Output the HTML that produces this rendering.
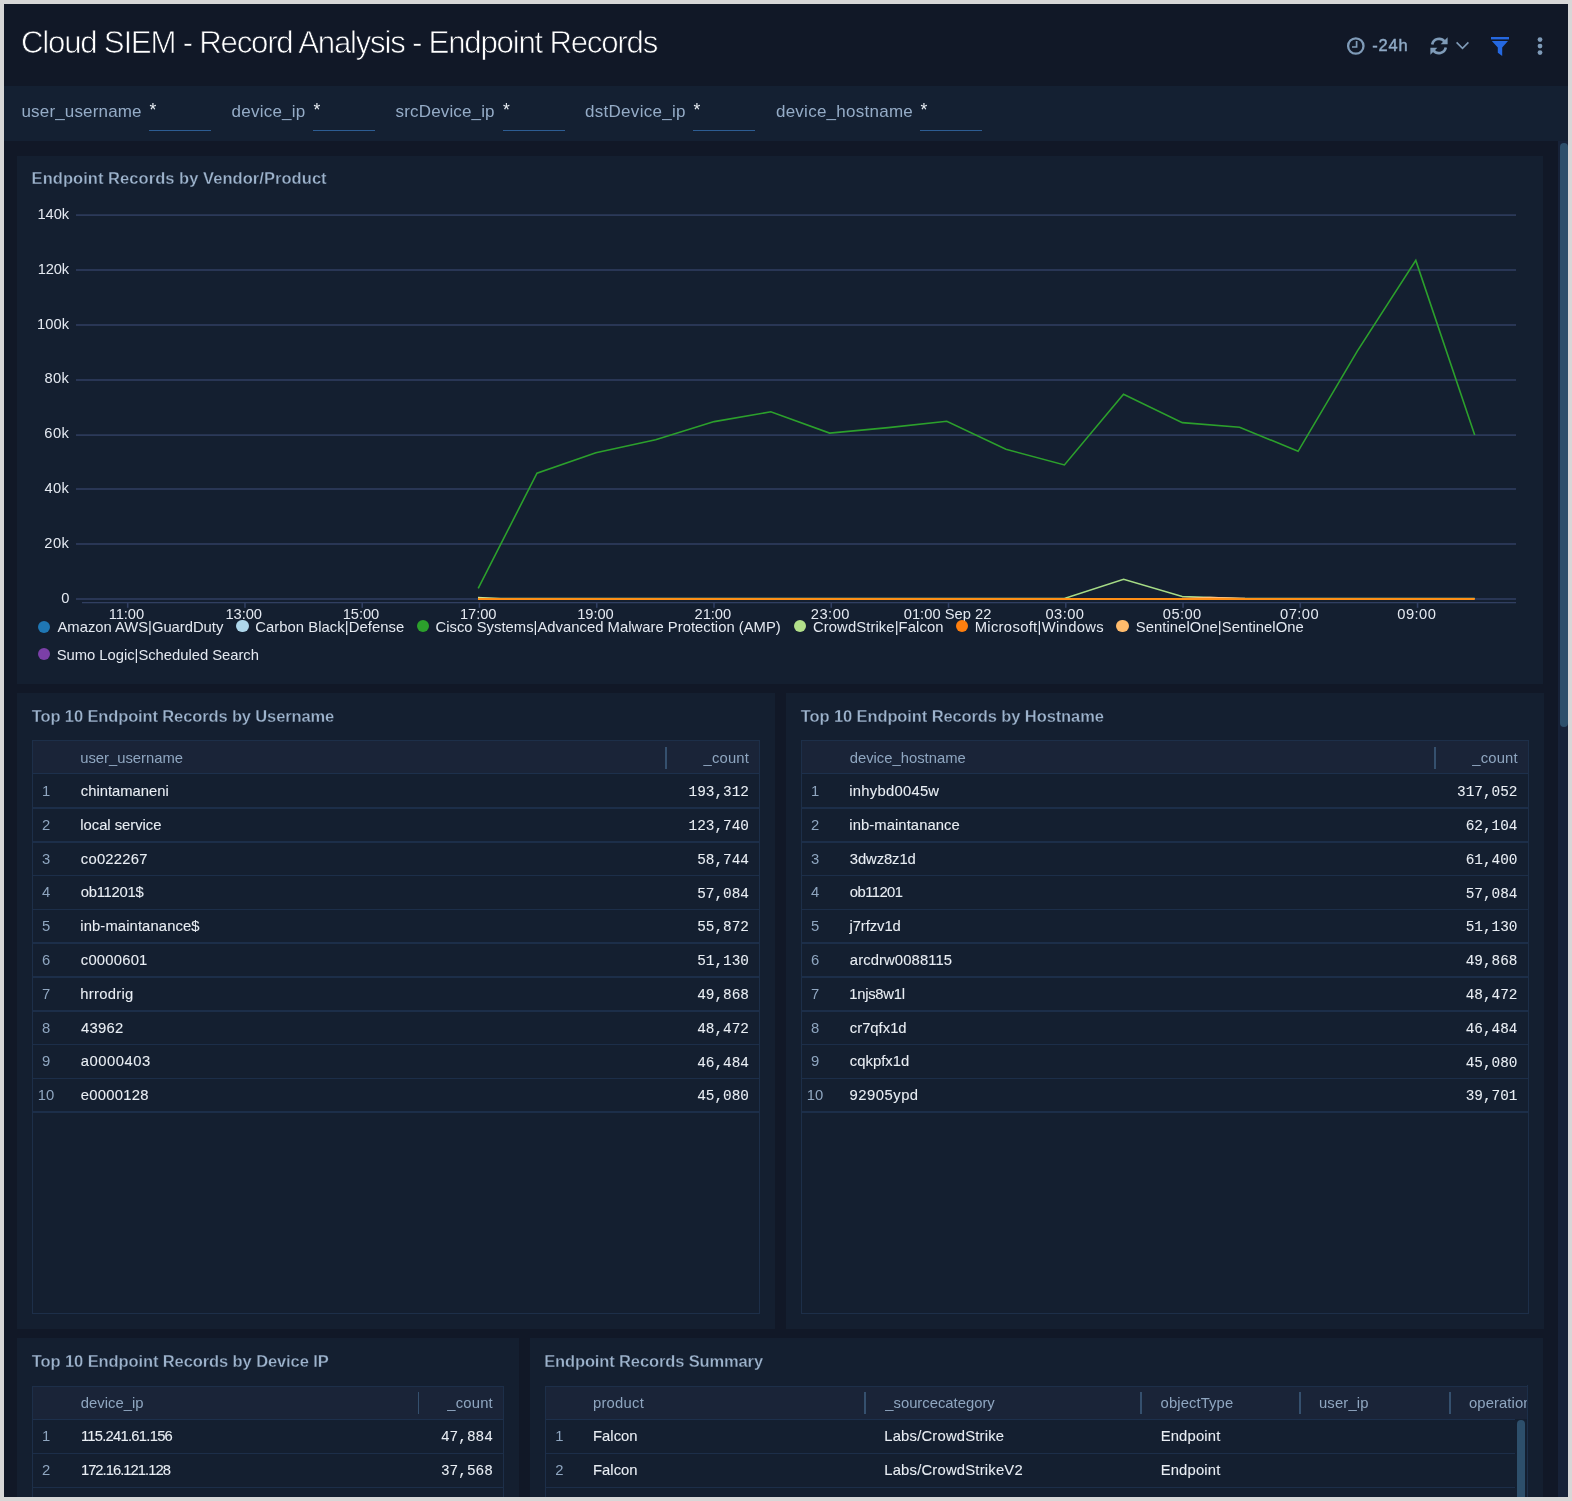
<!DOCTYPE html>
<html><head><meta charset="utf-8"><title>Cloud SIEM - Record Analysis - Endpoint Records</title>
<style>
html,body{margin:0;padding:0;}
body{width:1572px;height:1501px;overflow:hidden;background:#d7d7d7;position:relative;font-family:"Liberation Sans", sans-serif;}
#root{position:absolute;left:0;top:0;width:1572px;height:1501px;overflow:hidden;will-change:transform;}
.b{position:absolute;}
.t{position:absolute;white-space:pre;font-family:"Liberation Sans", sans-serif;}
.m{font-family:"Liberation Mono", monospace;}
</style></head><body><div id="root">
<div class="b" style="left:4px;top:4px;width:1564px;height:1493px;background:#111827;"></div>
<div class="b" style="left:4px;top:86px;width:1564px;height:55px;background:#142032;"></div>
<div class="b" style="left:1558px;top:141px;width:10px;height:1356px;background:#172238;"></div>
<div class="b" style="left:1560px;top:143px;width:8px;height:584px;background:#2d4f6b;border-radius:4px;"></div>
<div class="t" style="left:21.00px;top:26.79px;font-size:31.2px;line-height:31.2px;color:#ffffff;letter-spacing:-1.22px;-webkit-text-stroke:0.75px #111827;">Cloud SIEM - Record Analysis - Endpoint Records</div>
<div class="t" style="left:1372.20px;top:36.72px;font-size:16.4px;line-height:16.4px;color:#8faac6;letter-spacing:0.9px;-webkit-text-stroke:0.45px #8faac6;">-24h</div>
<svg class="b" style="left:1340px;top:30px" width="220" height="34" viewBox="1340 30 220 34">
<circle cx="1355.8" cy="46" r="7.7" fill="none" stroke="#7f9bb8" stroke-width="2.3"/>
<path d="M1356.6 41 V47 H1352" fill="none" stroke="#7f9bb8" stroke-width="1.7"/>
<g fill="none" stroke="#7f9bb8" stroke-width="2.6">
<path d="M1432.2 44.5 A7 7 0 0 1 1444.6 41.6"/>
<path d="M1445.8 47.5 A7 7 0 0 1 1433.4 50.4"/>
</g>
<path d="M1447.6 37.2 V44.2 H1440.6 Z" fill="#7f9bb8"/>
<path d="M1430.4 54.8 V47.8 H1437.4 Z" fill="#7f9bb8"/>
<path d="M1456.6 42.4 L1462.5 48.3 L1468.4 42.4" fill="none" stroke="#7f9bb8" stroke-width="1.6"/>
<rect x="1491" y="37" width="18" height="2.4" fill="#2568e0"/>
<path d="M1491.8 41 H1508 L1502.2 47.4 V56 L1497.8 52.8 V47.4 Z" fill="#2568e0"/>
<circle cx="1540" cy="39.6" r="2.4" fill="#7f9bb8"/>
<circle cx="1540" cy="46.1" r="2.4" fill="#7f9bb8"/>
<circle cx="1540" cy="52.6" r="2.4" fill="#7f9bb8"/>
</svg>
<div class="t" style="left:21.50px;top:102.81px;font-size:17.0px;line-height:17.0px;color:#95acc7;letter-spacing:0.158px;">user_username</div>
<div class="t" style="left:149.50px;top:101.79px;font-size:17.5px;line-height:17.5px;color:#e9eef4;">*</div>
<div class="b" style="left:149px;top:130px;width:62px;height:1px;background:#2d5d93;"></div>
<div class="t" style="left:231.55px;top:102.81px;font-size:17.0px;line-height:17.0px;color:#95acc7;letter-spacing:0.238px;">device_ip</div>
<div class="t" style="left:313.50px;top:101.79px;font-size:17.5px;line-height:17.5px;color:#e9eef4;">*</div>
<div class="b" style="left:313px;top:130px;width:62px;height:1px;background:#2d5d93;"></div>
<div class="t" style="left:395.60px;top:102.81px;font-size:17.0px;line-height:17.0px;color:#95acc7;letter-spacing:0.15px;">srcDevice_ip</div>
<div class="t" style="left:503.00px;top:101.79px;font-size:17.5px;line-height:17.5px;color:#e9eef4;">*</div>
<div class="b" style="left:502.5px;top:130px;width:62.0px;height:1px;background:#2d5d93;"></div>
<div class="t" style="left:584.95px;top:102.81px;font-size:17.0px;line-height:17.0px;color:#95acc7;letter-spacing:0.3px;">dstDevice_ip</div>
<div class="t" style="left:693.50px;top:101.79px;font-size:17.5px;line-height:17.5px;color:#e9eef4;">*</div>
<div class="b" style="left:693px;top:130px;width:62px;height:1px;background:#2d5d93;"></div>
<div class="t" style="left:775.95px;top:102.81px;font-size:17.0px;line-height:17.0px;color:#95acc7;letter-spacing:0.254px;">device_hostname</div>
<div class="t" style="left:920.50px;top:101.79px;font-size:17.5px;line-height:17.5px;color:#e9eef4;">*</div>
<div class="b" style="left:920px;top:130px;width:62px;height:1px;background:#2d5d93;"></div>
<div class="b" style="left:17px;top:156px;width:1526px;height:528px;background:#141f30;"></div>
<div class="b" style="left:17px;top:693px;width:758px;height:635.7px;background:#141f30;"></div>
<div class="b" style="left:785.6px;top:693px;width:758.4px;height:635.7px;background:#141f30;"></div>
<div class="b" style="left:17px;top:1338.2px;width:502px;height:158.79999999999995px;background:#141f30;"></div>
<div class="b" style="left:530px;top:1338.2px;width:1013px;height:158.79999999999995px;background:#141f30;"></div>
<div class="t" style="left:31.60px;top:170.03px;font-size:16.5px;line-height:16.5px;color:#9db3cc;font-weight:700;letter-spacing:0.05px;-webkit-text-stroke:0.3px #141f30;">Endpoint Records by Vendor/Product</div>
<div class="t" style="left:31.80px;top:707.83px;font-size:16.5px;line-height:16.5px;color:#9db3cc;font-weight:700;letter-spacing:-0.13px;-webkit-text-stroke:0.3px #141f30;">Top 10 Endpoint Records by Username</div>
<div class="t" style="left:800.80px;top:707.83px;font-size:16.5px;line-height:16.5px;color:#9db3cc;font-weight:700;letter-spacing:-0.11px;-webkit-text-stroke:0.3px #141f30;">Top 10 Endpoint Records by Hostname</div>
<div class="t" style="left:31.80px;top:1353.33px;font-size:16.5px;line-height:16.5px;color:#9db3cc;font-weight:700;letter-spacing:-0.1px;-webkit-text-stroke:0.3px #141f30;">Top 10 Endpoint Records by Device IP</div>
<div class="t" style="left:544.20px;top:1353.33px;font-size:16.5px;line-height:16.5px;color:#9db3cc;font-weight:700;letter-spacing:-0.13px;-webkit-text-stroke:0.3px #141f30;">Endpoint Records Summary</div>
<svg class="b" style="left:0;top:200px" width="1572" height="420" viewBox="0 200 1572 420"><rect x="76" y="214.35" width="1440" height="1.5" fill="#313f61"/><rect x="76" y="269.25" width="1440" height="1.5" fill="#313f61"/><rect x="76" y="324.25" width="1440" height="1.5" fill="#313f61"/><rect x="76" y="379.25" width="1440" height="1.5" fill="#313f61"/><rect x="76" y="434.35" width="1440" height="1.5" fill="#313f61"/><rect x="76" y="488.25" width="1440" height="1.5" fill="#313f61"/><rect x="76" y="543.25" width="1440" height="1.5" fill="#313f61"/><rect x="76" y="598.25" width="1440" height="1.5" fill="#313f61"/><rect x="82" y="602.0" width="1434" height="1.3" fill="#313f61"/><rect x="126.90" y="602.6" width="1.6" height="5.2" fill="#313f61"/><rect x="244.16" y="602.6" width="1.6" height="5.2" fill="#313f61"/><rect x="361.42" y="602.6" width="1.6" height="5.2" fill="#313f61"/><rect x="478.68" y="602.6" width="1.6" height="5.2" fill="#313f61"/><rect x="595.94" y="602.6" width="1.6" height="5.2" fill="#313f61"/><rect x="713.20" y="602.6" width="1.6" height="5.2" fill="#313f61"/><rect x="830.46" y="602.6" width="1.6" height="5.2" fill="#313f61"/><rect x="947.72" y="602.6" width="1.6" height="5.2" fill="#313f61"/><rect x="1064.98" y="602.6" width="1.6" height="5.2" fill="#313f61"/><rect x="1182.24" y="602.6" width="1.6" height="5.2" fill="#313f61"/><rect x="1299.50" y="602.6" width="1.6" height="5.2" fill="#313f61"/><rect x="1416.76" y="602.6" width="1.6" height="5.2" fill="#313f61"/><polyline fill="none" stroke="#2ca02c" stroke-width="1.6" stroke-linejoin="miter" points="478.2,588.3 537,473.2 595.9,452.8 655.6,439.8 714.2,421.6 770.8,411.8 829.6,433.1 888.2,427.6 946.8,421.3 1005.9,449.3 1064.4,464.9 1123.5,394.3 1182.3,422.6 1239.6,427.2 1298.1,451.3 1357.3,351.1 1415.8,260.4 1474.7,435"/><polyline fill="none" stroke="#a6dc86" stroke-width="1.5" points="478.2,598.6 1064.4,598.4 1123.6,579.4 1182.2,596.4 1240,598.4 1474.7,598.6"/><polygon fill="#c9e590" points="478,596.8 478,598.6 512,598.6"/><polyline fill="none" stroke="#ffbb78" stroke-width="1.5" points="1182,598.6 1210,597.4 1245,598.6"/><polyline fill="none" stroke="#ff8f17" stroke-width="2.1" points="478,599 1474.7,599"/></svg>
<div class="t" style="left:37.40px;top:206.56px;font-size:14.7px;line-height:14.7px;color:#e4e9f1;letter-spacing:-0.05px;">140k</div>
<div class="t" style="left:37.70px;top:261.56px;font-size:14.7px;line-height:14.7px;color:#e4e9f1;letter-spacing:-0.15px;">120k</div>
<div class="t" style="left:37.00px;top:316.76px;font-size:14.7px;line-height:14.7px;color:#e4e9f1;letter-spacing:0.083px;">100k</div>
<div class="t" style="left:44.60px;top:371.26px;font-size:14.7px;line-height:14.7px;color:#e4e9f1;letter-spacing:0.325px;">80k</div>
<div class="t" style="left:44.35px;top:425.76px;font-size:14.7px;line-height:14.7px;color:#e4e9f1;letter-spacing:0.45px;">60k</div>
<div class="t" style="left:44.45px;top:480.56px;font-size:14.7px;line-height:14.7px;color:#e4e9f1;letter-spacing:0.4px;">40k</div>
<div class="t" style="left:44.35px;top:535.86px;font-size:14.7px;line-height:14.7px;color:#e4e9f1;letter-spacing:0.45px;">20k</div>
<div class="t" style="left:61.20px;top:590.56px;font-size:14.7px;line-height:14.7px;color:#e4e9f1;letter-spacing:0.05px;">0</div>
<div class="t" style="left:108.75px;top:607.36px;font-size:14.7px;line-height:14.7px;color:#e4e9f1;letter-spacing:-0.088px;">11:00</div>
<div class="t" style="left:225.41px;top:607.36px;font-size:14.7px;line-height:14.7px;color:#e4e9f1;letter-spacing:-0.038px;">13:00</div>
<div class="t" style="left:342.67px;top:607.36px;font-size:14.7px;line-height:14.7px;color:#e4e9f1;letter-spacing:-0.037px;">15:00</div>
<div class="t" style="left:459.93px;top:607.36px;font-size:14.7px;line-height:14.7px;color:#e4e9f1;letter-spacing:-0.037px;">17:00</div>
<div class="t" style="left:577.19px;top:607.36px;font-size:14.7px;line-height:14.7px;color:#e4e9f1;letter-spacing:-0.038px;">19:00</div>
<div class="t" style="left:694.60px;top:607.36px;font-size:14.7px;line-height:14.7px;color:#e4e9f1;letter-spacing:-0.05px;">21:00</div>
<div class="t" style="left:810.76px;top:607.36px;font-size:14.7px;line-height:14.7px;color:#e4e9f1;letter-spacing:0.5px;">23:00</div>
<div class="t" style="left:903.72px;top:607.36px;font-size:14.7px;line-height:14.7px;color:#e4e9f1;letter-spacing:0.032px;">01:00 Sep 22</div>
<div class="t" style="left:1045.53px;top:607.36px;font-size:14.7px;line-height:14.7px;color:#e4e9f1;letter-spacing:0.438px;">03:00</div>
<div class="t" style="left:1162.79px;top:607.36px;font-size:14.7px;line-height:14.7px;color:#e4e9f1;letter-spacing:0.438px;">05:00</div>
<div class="t" style="left:1280.05px;top:607.36px;font-size:14.7px;line-height:14.7px;color:#e4e9f1;letter-spacing:0.438px;">07:00</div>
<div class="t" style="left:1397.31px;top:607.36px;font-size:14.7px;line-height:14.7px;color:#e4e9f1;letter-spacing:0.438px;">09:00</div>
<div class="b" style="left:37.70px;top:620.60px;width:12.4px;height:12.4px;border-radius:50%;background:#1f77b4"></div>
<div class="t" style="left:57.50px;top:620.47px;font-size:14.8px;line-height:14.8px;color:#e4e9f1;letter-spacing:-0.016px;">Amazon AWS|GuardDuty</div>
<div class="b" style="left:236.20px;top:619.80px;width:12.4px;height:12.4px;border-radius:50%;background:#aed6ea"></div>
<div class="t" style="left:255.15px;top:619.67px;font-size:14.8px;line-height:14.8px;color:#e4e9f1;letter-spacing:0.068px;">Carbon Black|Defense</div>
<div class="b" style="left:416.80px;top:619.80px;width:12.4px;height:12.4px;border-radius:50%;background:#2ca02c"></div>
<div class="t" style="left:435.45px;top:619.67px;font-size:14.8px;line-height:14.8px;color:#e4e9f1;letter-spacing:0.023px;">Cisco Systems|Advanced Malware Protection (AMP)</div>
<div class="b" style="left:793.50px;top:619.80px;width:12.4px;height:12.4px;border-radius:50%;background:#b2df8a"></div>
<div class="t" style="left:812.95px;top:619.67px;font-size:14.8px;line-height:14.8px;color:#e4e9f1;letter-spacing:0.103px;">CrowdStrike|Falcon</div>
<div class="b" style="left:955.80px;top:619.80px;width:12.4px;height:12.4px;border-radius:50%;background:#ff7f0e"></div>
<div class="t" style="left:974.65px;top:619.67px;font-size:14.8px;line-height:14.8px;color:#e4e9f1;letter-spacing:0.322px;">Microsoft|Windows</div>
<div class="b" style="left:1116.40px;top:619.80px;width:12.4px;height:12.4px;border-radius:50%;background:#ffbb6c"></div>
<div class="t" style="left:1135.85px;top:619.67px;font-size:14.8px;line-height:14.8px;color:#e4e9f1;letter-spacing:0.052px;">SentinelOne|SentinelOne</div>
<div class="b" style="left:37.70px;top:647.60px;width:12.4px;height:12.4px;border-radius:50%;background:#7b3fa8"></div>
<div class="t" style="left:56.75px;top:648.27px;font-size:14.8px;line-height:14.8px;color:#e4e9f1;letter-spacing:-0.029px;">Sumo Logic|Scheduled Search</div>
<div class="b" style="left:32px;top:740px;width:728px;height:573.5px;background:transparent;border:1px solid #1d2f49;box-sizing:border-box;"></div>
<div class="b" style="left:33px;top:741px;width:726px;height:32.5px;background:#1a2438;"></div>
<div class="b" style="left:33px;top:773.4px;width:726px;height:1.1000000000000227px;background:#1d304c;"></div>
<div class="b" style="left:665.1px;top:746.5px;width:1.7999999999999545px;height:22.0px;background:#35506e;"></div>
<div class="t" style="left:80.20px;top:751.27px;font-size:14.8px;line-height:14.8px;color:#8fa6c0;letter-spacing:-0.004px;">user_username</div>
<div class="t" style="left:703.55px;top:751.27px;font-size:14.8px;line-height:14.8px;color:#8fa6c0;letter-spacing:0.18px;">_count</div>
<div class="b" style="left:33px;top:807.1999999999999px;width:726px;height:1.7000000000000455px;background:#1c2e49;"></div>
<div class="t" style="left:-154.00px;width:400px;text-align:center;top:783.97px;font-size:14.8px;line-height:14.8px;color:#8fa6c0;">1</div>
<div class="t" style="left:80.80px;top:783.97px;font-size:14.8px;line-height:14.8px;color:#e9eef4;letter-spacing:-0.009px;-webkit-text-stroke:0.08px #e9eef4;">chintamaneni</div>
<div class="t m" style="right:823.00px;top:785.26px;font-size:14.4px;line-height:14.4px;color:#e9eef4;-webkit-text-stroke:0.08px #e9eef4;">193,312</div>
<div class="b" style="left:33px;top:840.9999999999999px;width:726px;height:1.7000000000000455px;background:#1c2e49;"></div>
<div class="t" style="left:-154.00px;width:400px;text-align:center;top:817.77px;font-size:14.8px;line-height:14.8px;color:#8fa6c0;">2</div>
<div class="t" style="left:80.30px;top:817.77px;font-size:14.8px;line-height:14.8px;color:#e9eef4;letter-spacing:-0.029px;-webkit-text-stroke:0.08px #e9eef4;">local service</div>
<div class="t m" style="right:823.00px;top:819.06px;font-size:14.4px;line-height:14.4px;color:#e9eef4;-webkit-text-stroke:0.08px #e9eef4;">123,740</div>
<div class="b" style="left:33px;top:874.8px;width:726px;height:1.7000000000000455px;background:#1c2e49;"></div>
<div class="t" style="left:-154.00px;width:400px;text-align:center;top:851.57px;font-size:14.8px;line-height:14.8px;color:#8fa6c0;">3</div>
<div class="t" style="left:80.80px;top:851.57px;font-size:14.8px;line-height:14.8px;color:#e9eef4;letter-spacing:0.236px;-webkit-text-stroke:0.08px #e9eef4;">co022267</div>
<div class="t m" style="right:823.00px;top:852.86px;font-size:14.4px;line-height:14.4px;color:#e9eef4;-webkit-text-stroke:0.08px #e9eef4;">58,744</div>
<div class="b" style="left:33px;top:908.5999999999999px;width:726px;height:1.7000000000000455px;background:#1c2e49;"></div>
<div class="t" style="left:-154.00px;width:400px;text-align:center;top:885.37px;font-size:14.8px;line-height:14.8px;color:#8fa6c0;">4</div>
<div class="t" style="left:80.80px;top:885.37px;font-size:14.8px;line-height:14.8px;color:#e9eef4;letter-spacing:-0.257px;-webkit-text-stroke:0.08px #e9eef4;">ob11201$</div>
<div class="t m" style="right:823.00px;top:886.66px;font-size:14.4px;line-height:14.4px;color:#e9eef4;-webkit-text-stroke:0.08px #e9eef4;">57,084</div>
<div class="b" style="left:33px;top:942.4px;width:726px;height:1.7000000000000455px;background:#1c2e49;"></div>
<div class="t" style="left:-154.00px;width:400px;text-align:center;top:919.17px;font-size:14.8px;line-height:14.8px;color:#8fa6c0;">5</div>
<div class="t" style="left:80.30px;top:919.17px;font-size:14.8px;line-height:14.8px;color:#e9eef4;letter-spacing:0.107px;-webkit-text-stroke:0.08px #e9eef4;">inb-maintanance$</div>
<div class="t m" style="right:823.00px;top:920.46px;font-size:14.4px;line-height:14.4px;color:#e9eef4;-webkit-text-stroke:0.08px #e9eef4;">55,872</div>
<div class="b" style="left:33px;top:976.1999999999999px;width:726px;height:1.7000000000000455px;background:#1c2e49;"></div>
<div class="t" style="left:-154.00px;width:400px;text-align:center;top:952.97px;font-size:14.8px;line-height:14.8px;color:#8fa6c0;">6</div>
<div class="t" style="left:80.80px;top:952.97px;font-size:14.8px;line-height:14.8px;color:#e9eef4;letter-spacing:0.221px;-webkit-text-stroke:0.08px #e9eef4;">c0000601</div>
<div class="t m" style="right:823.00px;top:954.26px;font-size:14.4px;line-height:14.4px;color:#e9eef4;-webkit-text-stroke:0.08px #e9eef4;">51,130</div>
<div class="b" style="left:33px;top:1009.9999999999999px;width:726px;height:1.7000000000000455px;background:#1c2e49;"></div>
<div class="t" style="left:-154.00px;width:400px;text-align:center;top:986.77px;font-size:14.8px;line-height:14.8px;color:#8fa6c0;">7</div>
<div class="t" style="left:80.30px;top:986.77px;font-size:14.8px;line-height:14.8px;color:#e9eef4;letter-spacing:0.286px;-webkit-text-stroke:0.08px #e9eef4;">hrrodrig</div>
<div class="t m" style="right:823.00px;top:988.06px;font-size:14.4px;line-height:14.4px;color:#e9eef4;-webkit-text-stroke:0.08px #e9eef4;">49,868</div>
<div class="b" style="left:33px;top:1043.8px;width:726px;height:1.699999999999818px;background:#1c2e49;"></div>
<div class="t" style="left:-154.00px;width:400px;text-align:center;top:1020.57px;font-size:14.8px;line-height:14.8px;color:#8fa6c0;">8</div>
<div class="t" style="left:81.05px;top:1020.57px;font-size:14.8px;line-height:14.8px;color:#e9eef4;letter-spacing:0.288px;-webkit-text-stroke:0.08px #e9eef4;">43962</div>
<div class="t m" style="right:823.00px;top:1021.86px;font-size:14.4px;line-height:14.4px;color:#e9eef4;-webkit-text-stroke:0.08px #e9eef4;">48,472</div>
<div class="b" style="left:33px;top:1077.6000000000001px;width:726px;height:1.699999999999818px;background:#1c2e49;"></div>
<div class="t" style="left:-154.00px;width:400px;text-align:center;top:1054.37px;font-size:14.8px;line-height:14.8px;color:#8fa6c0;">9</div>
<div class="t" style="left:80.80px;top:1054.37px;font-size:14.8px;line-height:14.8px;color:#e9eef4;letter-spacing:0.521px;-webkit-text-stroke:0.08px #e9eef4;">a0000403</div>
<div class="t m" style="right:823.00px;top:1055.66px;font-size:14.4px;line-height:14.4px;color:#e9eef4;-webkit-text-stroke:0.08px #e9eef4;">46,484</div>
<div class="b" style="left:33px;top:1111.4px;width:726px;height:1.699999999999818px;background:#1c2e49;"></div>
<div class="t" style="left:-154.00px;width:400px;text-align:center;top:1088.17px;font-size:14.8px;line-height:14.8px;color:#8fa6c0;">10</div>
<div class="t" style="left:80.80px;top:1088.17px;font-size:14.8px;line-height:14.8px;color:#e9eef4;letter-spacing:0.25px;-webkit-text-stroke:0.08px #e9eef4;">e0000128</div>
<div class="t m" style="right:823.00px;top:1089.46px;font-size:14.4px;line-height:14.4px;color:#e9eef4;-webkit-text-stroke:0.08px #e9eef4;">45,080</div>
<div class="b" style="left:801px;top:740px;width:728px;height:573.5px;background:transparent;border:1px solid #1d2f49;box-sizing:border-box;"></div>
<div class="b" style="left:802px;top:741px;width:726px;height:32.5px;background:#1a2438;"></div>
<div class="b" style="left:802px;top:773.4px;width:726px;height:1.1000000000000227px;background:#1d304c;"></div>
<div class="b" style="left:1434.1px;top:746.5px;width:1.800000000000182px;height:22.0px;background:#35506e;"></div>
<div class="t" style="left:849.70px;top:751.27px;font-size:14.8px;line-height:14.8px;color:#8fa6c0;letter-spacing:0.004px;">device_hostname</div>
<div class="t" style="left:1472.35px;top:751.27px;font-size:14.8px;line-height:14.8px;color:#8fa6c0;letter-spacing:0.16px;">_count</div>
<div class="b" style="left:802px;top:807.1999999999999px;width:726px;height:1.7000000000000455px;background:#1c2e49;"></div>
<div class="t" style="left:615.00px;width:400px;text-align:center;top:783.97px;font-size:14.8px;line-height:14.8px;color:#8fa6c0;">1</div>
<div class="t" style="left:849.30px;top:783.97px;font-size:14.8px;line-height:14.8px;color:#e9eef4;letter-spacing:0.255px;-webkit-text-stroke:0.08px #e9eef4;">inhybd0045w</div>
<div class="t m" style="right:54.50px;top:785.26px;font-size:14.4px;line-height:14.4px;color:#e9eef4;-webkit-text-stroke:0.08px #e9eef4;">317,052</div>
<div class="b" style="left:802px;top:840.9999999999999px;width:726px;height:1.7000000000000455px;background:#1c2e49;"></div>
<div class="t" style="left:615.00px;width:400px;text-align:center;top:817.77px;font-size:14.8px;line-height:14.8px;color:#8fa6c0;">2</div>
<div class="t" style="left:849.30px;top:817.77px;font-size:14.8px;line-height:14.8px;color:#e9eef4;letter-spacing:0.075px;-webkit-text-stroke:0.08px #e9eef4;">inb-maintanance</div>
<div class="t m" style="right:54.50px;top:819.06px;font-size:14.4px;line-height:14.4px;color:#e9eef4;-webkit-text-stroke:0.08px #e9eef4;">62,104</div>
<div class="b" style="left:802px;top:874.8px;width:726px;height:1.7000000000000455px;background:#1c2e49;"></div>
<div class="t" style="left:615.00px;width:400px;text-align:center;top:851.57px;font-size:14.8px;line-height:14.8px;color:#8fa6c0;">3</div>
<div class="t" style="left:849.80px;top:851.57px;font-size:14.8px;line-height:14.8px;color:#e9eef4;letter-spacing:-0.093px;-webkit-text-stroke:0.08px #e9eef4;">3dwz8z1d</div>
<div class="t m" style="right:54.50px;top:852.86px;font-size:14.4px;line-height:14.4px;color:#e9eef4;-webkit-text-stroke:0.08px #e9eef4;">61,400</div>
<div class="b" style="left:802px;top:908.5999999999999px;width:726px;height:1.7000000000000455px;background:#1c2e49;"></div>
<div class="t" style="left:615.00px;width:400px;text-align:center;top:885.37px;font-size:14.8px;line-height:14.8px;color:#8fa6c0;">4</div>
<div class="t" style="left:849.80px;top:885.37px;font-size:14.8px;line-height:14.8px;color:#e9eef4;letter-spacing:-0.558px;-webkit-text-stroke:0.08px #e9eef4;">ob11201</div>
<div class="t m" style="right:54.50px;top:886.66px;font-size:14.4px;line-height:14.4px;color:#e9eef4;-webkit-text-stroke:0.08px #e9eef4;">57,084</div>
<div class="b" style="left:802px;top:942.4px;width:726px;height:1.7000000000000455px;background:#1c2e49;"></div>
<div class="t" style="left:615.00px;width:400px;text-align:center;top:919.17px;font-size:14.8px;line-height:14.8px;color:#8fa6c0;">5</div>
<div class="t" style="left:849.50px;top:919.17px;font-size:14.8px;line-height:14.8px;color:#e9eef4;letter-spacing:-0.071px;-webkit-text-stroke:0.08px #e9eef4;">j7rfzv1d</div>
<div class="t m" style="right:54.50px;top:920.46px;font-size:14.4px;line-height:14.4px;color:#e9eef4;-webkit-text-stroke:0.08px #e9eef4;">51,130</div>
<div class="b" style="left:802px;top:976.1999999999999px;width:726px;height:1.7000000000000455px;background:#1c2e49;"></div>
<div class="t" style="left:615.00px;width:400px;text-align:center;top:952.97px;font-size:14.8px;line-height:14.8px;color:#8fa6c0;">6</div>
<div class="t" style="left:849.80px;top:952.97px;font-size:14.8px;line-height:14.8px;color:#e9eef4;letter-spacing:0.113px;-webkit-text-stroke:0.08px #e9eef4;">arcdrw0088115</div>
<div class="t m" style="right:54.50px;top:954.26px;font-size:14.4px;line-height:14.4px;color:#e9eef4;-webkit-text-stroke:0.08px #e9eef4;">49,868</div>
<div class="b" style="left:802px;top:1009.9999999999999px;width:726px;height:1.7000000000000455px;background:#1c2e49;"></div>
<div class="t" style="left:615.00px;width:400px;text-align:center;top:986.77px;font-size:14.8px;line-height:14.8px;color:#8fa6c0;">7</div>
<div class="t" style="left:849.30px;top:986.77px;font-size:14.8px;line-height:14.8px;color:#e9eef4;letter-spacing:-0.279px;-webkit-text-stroke:0.08px #e9eef4;">1njs8w1l</div>
<div class="t m" style="right:54.50px;top:988.06px;font-size:14.4px;line-height:14.4px;color:#e9eef4;-webkit-text-stroke:0.08px #e9eef4;">48,472</div>
<div class="b" style="left:802px;top:1043.8px;width:726px;height:1.699999999999818px;background:#1c2e49;"></div>
<div class="t" style="left:615.00px;width:400px;text-align:center;top:1020.57px;font-size:14.8px;line-height:14.8px;color:#8fa6c0;">8</div>
<div class="t" style="left:849.80px;top:1020.57px;font-size:14.8px;line-height:14.8px;color:#e9eef4;letter-spacing:0.007px;-webkit-text-stroke:0.08px #e9eef4;">cr7qfx1d</div>
<div class="t m" style="right:54.50px;top:1021.86px;font-size:14.4px;line-height:14.4px;color:#e9eef4;-webkit-text-stroke:0.08px #e9eef4;">46,484</div>
<div class="b" style="left:802px;top:1077.6000000000001px;width:726px;height:1.699999999999818px;background:#1c2e49;"></div>
<div class="t" style="left:615.00px;width:400px;text-align:center;top:1054.37px;font-size:14.8px;line-height:14.8px;color:#8fa6c0;">9</div>
<div class="t" style="left:849.80px;top:1054.37px;font-size:14.8px;line-height:14.8px;color:#e9eef4;letter-spacing:0.021px;-webkit-text-stroke:0.08px #e9eef4;">cqkpfx1d</div>
<div class="t m" style="right:54.50px;top:1055.66px;font-size:14.4px;line-height:14.4px;color:#e9eef4;-webkit-text-stroke:0.08px #e9eef4;">45,080</div>
<div class="b" style="left:802px;top:1111.4px;width:726px;height:1.699999999999818px;background:#1c2e49;"></div>
<div class="t" style="left:615.00px;width:400px;text-align:center;top:1088.17px;font-size:14.8px;line-height:14.8px;color:#8fa6c0;">10</div>
<div class="t" style="left:849.55px;top:1088.17px;font-size:14.8px;line-height:14.8px;color:#e9eef4;letter-spacing:0.507px;-webkit-text-stroke:0.08px #e9eef4;">92905ypd</div>
<div class="t m" style="right:54.50px;top:1089.46px;font-size:14.4px;line-height:14.4px;color:#e9eef4;-webkit-text-stroke:0.08px #e9eef4;">39,701</div>
<div class="b" style="left:32px;top:1385.5px;width:472px;height:114.5px;background:transparent;border:1px solid #1d2f49;box-sizing:border-box;border-bottom:none;"></div>
<div class="b" style="left:33px;top:1386.5px;width:470px;height:32.5px;background:#1a2438;"></div>
<div class="b" style="left:33px;top:1418.9px;width:470px;height:1.099999999999909px;background:#1d304c;"></div>
<div class="b" style="left:417.70000000000005px;top:1392.0px;width:1.7999999999999545px;height:22.0px;background:#35506e;"></div>
<div class="t" style="left:80.80px;top:1396.27px;font-size:14.8px;line-height:14.8px;color:#8fa6c0;letter-spacing:0.012px;">device_ip</div>
<div class="t" style="left:447.35px;top:1396.27px;font-size:14.8px;line-height:14.8px;color:#8fa6c0;letter-spacing:0.18px;">_count</div>
<div class="b" style="left:33px;top:1452.7px;width:470px;height:1.699999999999818px;background:#1c2e49;"></div>
<div class="t" style="left:-154.00px;width:400px;text-align:center;top:1428.97px;font-size:14.8px;line-height:14.8px;color:#8fa6c0;">1</div>
<div class="t" style="left:80.90px;top:1428.97px;font-size:14.8px;line-height:14.8px;color:#e9eef4;letter-spacing:-0.754px;-webkit-text-stroke:0.08px #e9eef4;">115.241.61.156</div>
<div class="t m" style="right:1079.20px;top:1430.26px;font-size:14.4px;line-height:14.4px;color:#e9eef4;-webkit-text-stroke:0.08px #e9eef4;">47,884</div>
<div class="b" style="left:33px;top:1486.5px;width:470px;height:1.699999999999818px;background:#1c2e49;"></div>
<div class="t" style="left:-154.00px;width:400px;text-align:center;top:1462.77px;font-size:14.8px;line-height:14.8px;color:#8fa6c0;">2</div>
<div class="t" style="left:80.90px;top:1462.77px;font-size:14.8px;line-height:14.8px;color:#e9eef4;letter-spacing:-0.988px;-webkit-text-stroke:0.08px #e9eef4;">172.16.121.128</div>
<div class="t m" style="right:1079.20px;top:1464.06px;font-size:14.4px;line-height:14.4px;color:#e9eef4;-webkit-text-stroke:0.08px #e9eef4;">37,568</div>
<div class="t" style="left:-154.00px;width:400px;text-align:center;top:1496.57px;font-size:14.8px;line-height:14.8px;color:#8fa6c0;">3</div>
<div class="b" style="left:545px;top:1385.5px;width:983px;height:114.5px;background:transparent;border:1px solid #1d2f49;box-sizing:border-box;border-bottom:none;"></div>
<div class="b" style="left:546px;top:1386.5px;width:981px;height:32.5px;background:#1a2438;"></div>
<div class="b" style="left:546px;top:1418.9px;width:969px;height:1.099999999999909px;background:#1d304c;"></div>
<div class="b" style="left:864.1px;top:1392.0px;width:1.7999999999999545px;height:22.0px;background:#35506e;"></div>
<div class="b" style="left:1140.1px;top:1392.0px;width:1.800000000000182px;height:22.0px;background:#35506e;"></div>
<div class="b" style="left:1299.1px;top:1392.0px;width:1.800000000000182px;height:22.0px;background:#35506e;"></div>
<div class="b" style="left:1449.1px;top:1392.0px;width:1.800000000000182px;height:22.0px;background:#35506e;"></div>
<div class="t" style="left:592.90px;top:1396.27px;font-size:14.8px;line-height:14.8px;color:#8fa6c0;letter-spacing:0.258px;">product</div>
<div class="t" style="left:885.25px;top:1396.27px;font-size:14.8px;line-height:14.8px;color:#8fa6c0;letter-spacing:0.007px;">_sourcecategory</div>
<div class="t" style="left:1160.60px;top:1396.27px;font-size:14.8px;line-height:14.8px;color:#8fa6c0;letter-spacing:0.111px;">objectType</div>
<div class="t" style="left:1318.90px;top:1396.27px;font-size:14.8px;line-height:14.8px;color:#8fa6c0;letter-spacing:0.183px;">user_ip</div>
<div class="t" style="left:1469.00px;top:1396.27px;font-size:14.8px;line-height:14.8px;color:#8fa6c0;letter-spacing:0.1px;">operation</div>
<div class="b" style="left:546px;top:1452.7px;width:969px;height:1.699999999999818px;background:#1c2e49;"></div>
<div class="t" style="left:359.30px;width:400px;text-align:center;top:1428.97px;font-size:14.8px;line-height:14.8px;color:#8fa6c0;">1</div>
<div class="t" style="left:593.05px;top:1428.97px;font-size:14.8px;line-height:14.8px;color:#e9eef4;letter-spacing:0.01px;-webkit-text-stroke:0.08px #e9eef4;">Falcon</div>
<div class="t" style="left:884.25px;top:1428.97px;font-size:14.8px;line-height:14.8px;color:#e9eef4;letter-spacing:0.2px;-webkit-text-stroke:0.08px #e9eef4;">Labs/CrowdStrike</div>
<div class="t" style="left:1160.65px;top:1428.97px;font-size:14.8px;line-height:14.8px;color:#e9eef4;letter-spacing:0.171px;-webkit-text-stroke:0.08px #e9eef4;">Endpoint</div>
<div class="b" style="left:546px;top:1486.5px;width:969px;height:1.699999999999818px;background:#1c2e49;"></div>
<div class="t" style="left:359.30px;width:400px;text-align:center;top:1462.77px;font-size:14.8px;line-height:14.8px;color:#8fa6c0;">2</div>
<div class="t" style="left:593.05px;top:1462.77px;font-size:14.8px;line-height:14.8px;color:#e9eef4;letter-spacing:0.01px;-webkit-text-stroke:0.08px #e9eef4;">Falcon</div>
<div class="t" style="left:884.25px;top:1462.77px;font-size:14.8px;line-height:14.8px;color:#e9eef4;letter-spacing:0.206px;-webkit-text-stroke:0.08px #e9eef4;">Labs/CrowdStrikeV2</div>
<div class="t" style="left:1160.65px;top:1462.77px;font-size:14.8px;line-height:14.8px;color:#e9eef4;letter-spacing:0.171px;-webkit-text-stroke:0.08px #e9eef4;">Endpoint</div>
<div class="t" style="left:359.30px;width:400px;text-align:center;top:1496.57px;font-size:14.8px;line-height:14.8px;color:#8fa6c0;">3</div>
<div class="b" style="left:1516.5px;top:1420px;width:8.0px;height:100px;background:#2d4f6b;border-radius:4px;"></div>
<div class="b" style="left:1527px;top:1386px;width:16px;height:33px;background:#141f30;"></div>
<div class="b" style="left:1527px;top:1385px;width:1px;height:112px;background:#1d2f49;"></div>
<div class="b" style="left:0;top:0;width:1572px;height:4px;background:#d7d7d7"></div>
<div class="b" style="left:0;top:1497px;width:1572px;height:4px;background:#d7d7d7"></div>
<div class="b" style="left:0;top:0;width:4px;height:1501px;background:#d7d7d7"></div>
<div class="b" style="left:1568px;top:0;width:4px;height:1501px;background:#d7d7d7"></div>
</div></body></html>
